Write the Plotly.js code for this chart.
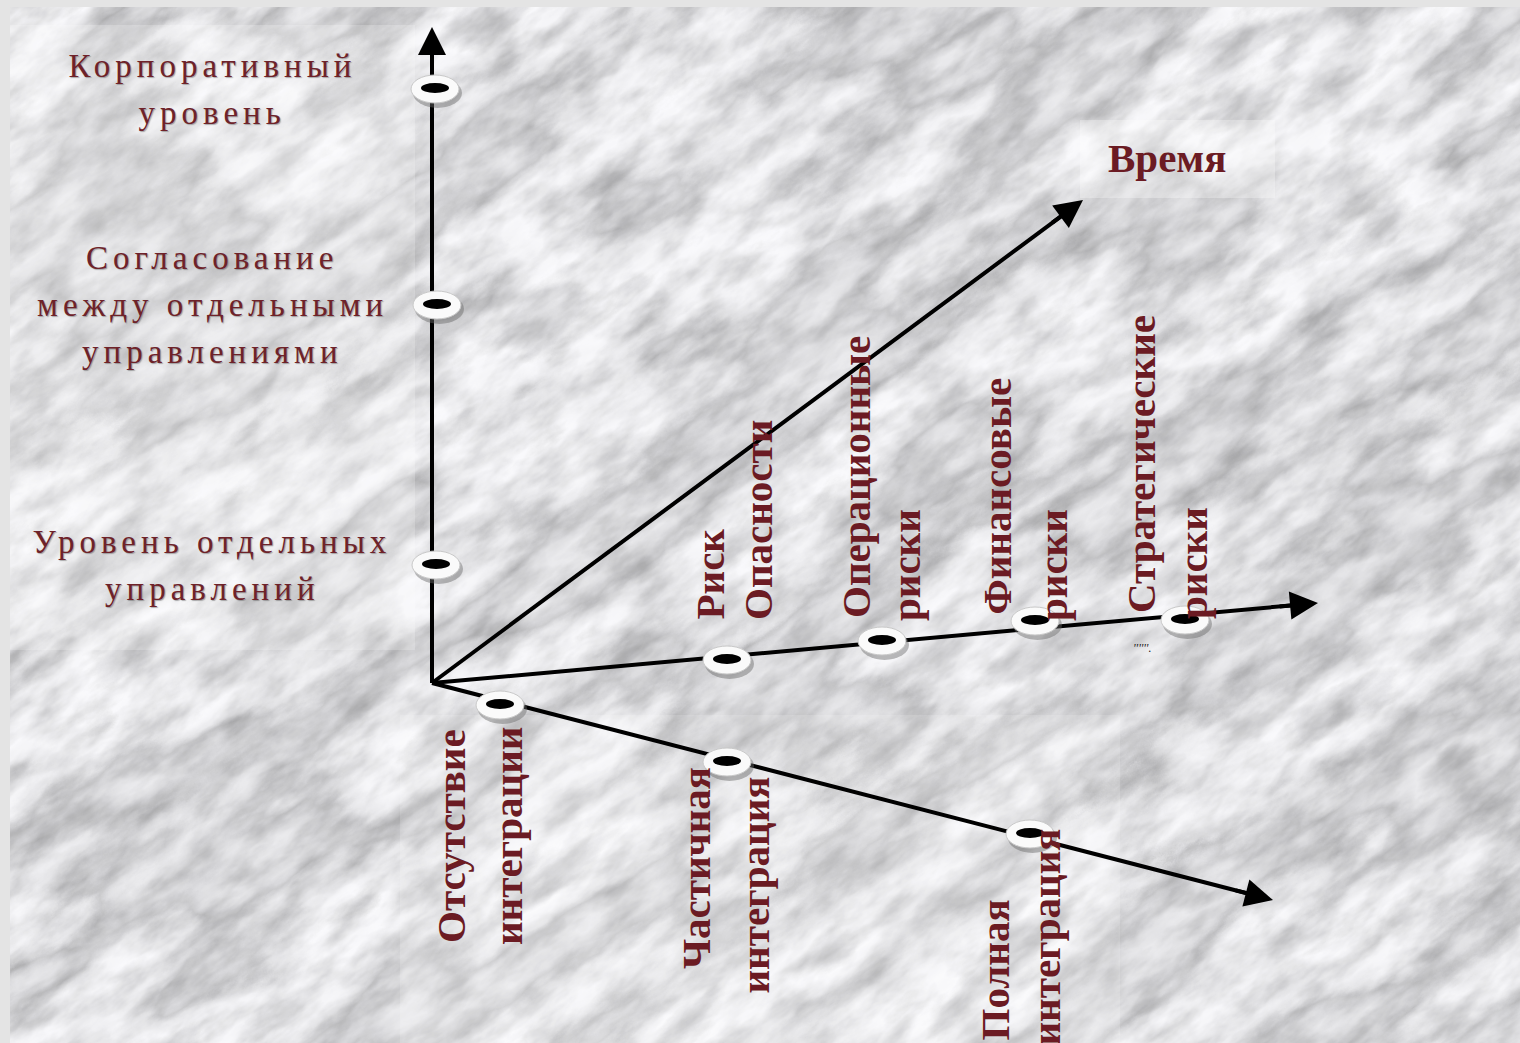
<!DOCTYPE html>
<html>
<head>
<meta charset="utf-8">
<script src="https://cdn.plot.ly/plotly-3.0.1.min.js"></script>
<style>
html,body{margin:0;padding:0;width:1520px;height:1043px;overflow:hidden;background:#e4e4e4;}
#bg{position:absolute;left:10px;top:7px;}
.panel{position:absolute;}
#chart{position:absolute;left:0;top:0;width:1520px;height:1043px;}
</style>
</head>
<body>
<svg id="bg" width="1510" height="1036">
  <defs>
    <filter id="marble" x="0" y="0" width="1" height="1" color-interpolation-filters="sRGB">
      <feTurbulence type="fractalNoise" baseFrequency="0.0038 0.0105" numOctaves="7" seed="23" result="n"/>
      <feColorMatrix in="n" type="matrix" values="1 0 0 0 0  1 0 0 0 0  1 0 0 0 0  0 0 0 0 1" result="g"/>
      <feComponentTransfer in="g" result="c">
        <feFuncR type="table" tableValues="0.74 0.80 0.86 0.92 0.88 0.80 0.91 0.96 0.98 0.90 0.84 0.93 0.97"/>
        <feFuncG type="table" tableValues="0.74 0.80 0.86 0.92 0.88 0.80 0.91 0.96 0.98 0.90 0.84 0.93 0.97"/>
        <feFuncB type="table" tableValues="0.75 0.81 0.87 0.93 0.89 0.81 0.92 0.97 0.99 0.91 0.85 0.94 0.98"/>
      </feComponentTransfer>
      <feTurbulence type="fractalNoise" baseFrequency="0.02 0.045" numOctaves="4" seed="5" result="s"/>
      <feColorMatrix in="s" type="matrix" values="1 0 0 0 0  1 0 0 0 0  1 0 0 0 0  0 0 0 0 1" result="s2"/>
      <feComponentTransfer in="s2" result="s3">
        <feFuncR type="table" tableValues="0.80 0.84 0.90 0.96 1 1 1"/>
        <feFuncG type="table" tableValues="0.80 0.84 0.90 0.96 1 1 1"/>
        <feFuncB type="table" tableValues="0.80 0.84 0.90 0.96 1 1 1"/>
      </feComponentTransfer>
      <feBlend in="c" in2="s3" mode="multiply"/>
    </filter>
  </defs>
  <rect x="-700" y="-700" width="2900" height="2500" fill="#fff" filter="url(#marble)" transform="rotate(-36 755 518)"/>
</svg>
<div class="panel" style="left:10px;top:25px;width:405px;height:625px;background:rgba(255,255,255,0.22)"></div>
<div class="panel" style="left:400px;top:715px;width:720px;height:328px;background:rgba(255,255,255,0.16)"></div>
<div class="panel" style="left:1080px;top:120px;width:195px;height:78px;background:rgba(255,255,255,0.30)"></div>
<div id="chart"></div>
<script>
// ---------------- data ----------------
const origin = [432, 683];

const levelLabels = [
  ['Корпоративный', 'уровень'],
  ['Согласование', 'между отдельными', 'управлениями'],
  ['Уровень отдельных', 'управлений']
];
const levelX = [435, 437, 436];
const levelY = [89, 305, 565];

const riskLabels = [
  ['Риск', 'Опасности'],
  ['Операционные', 'риски'],
  ['Финансовые', 'риски'],
  ['Стратегические', 'риски']
];
const riskX = [727, 882, 1035, 1185];
const riskY = [660, 641, 621, 620];

const integLabels = [
  ['Отсутствие', 'интеграции'],
  ['Частичная', 'интеграция'],
  ['Полная', 'интеграция']
];
const integX = [500, 727, 1030];
const integY = [705, 762, 834];

const timeLabel = 'Время';
// axis tips: vertical level axis, time axis, risk axis, integration axis
const axisTipX = [432, 1083, 1318, 1273];
const axisTipY = [27, 200, 603, 900];

// ---------------- layout config (label placement) ----------------
const LEFT_CX = 212, LEFT_LINE = 47;
const riskCols = [[709, 758], [856, 906], [996, 1053], [1141, 1193]];
const riskBottoms = [[622, 622], [620, 623], [617, 623], [615, 621]];
const integCols = [[451, 508], [696, 754], [994, 1045]];
const integTops = [[727, 725], [765, 775], [898, 827]];
const timePos = [1167, 158];

const RED = '#6b1b23';
const SERIF = 'Liberation Serif, Times New Roman, serif';

// ---------------- traces: axis lines ----------------
const traces = [];
const annotations = [];
const BACK = 14;
for (let i = 0; i < axisTipX.length; i++) {
  const dx = axisTipX[i] - origin[0], dy = axisTipY[i] - origin[1];
  const L = Math.hypot(dx, dy);
  const ex = axisTipX[i] - dx / L * BACK, ey = axisTipY[i] - dy / L * BACK;
  traces.push({
    type: 'scatter', mode: 'lines', x: [origin[0], ex], y: [origin[1], ey],
    line: {color: '#000', width: 4}, hoverinfo: 'skip', showlegend: false
  });
  annotations.push({
    x: axisTipX[i], y: axisTipY[i], xref: 'x', yref: 'y',
    ax: axisTipX[i] - dx / L * 40, ay: axisTipY[i] - dy / L * 40, axref: 'x', ayref: 'y',
    showarrow: true, arrowhead: 2, arrowsize: 1.4, arrowwidth: 4, arrowcolor: '#000',
    standoff: 0, text: ''
  });
}

// ---------------- rings (point markers) ----------------
const shapes = [];
function ring(cx, cy) {
  shapes.push({type: 'circle', xref: 'x', yref: 'y', x0: cx - 22, x1: cx + 27, y0: cy - 11, y1: cy + 19,
    fillcolor: 'rgba(105,105,105,0.45)', line: {width: 0}, layer: 'above'});
  shapes.push({type: 'circle', xref: 'x', yref: 'y', x0: cx - 24, x1: cx + 24, y0: cy - 14, y1: cy + 14,
    fillcolor: '#fafafa', line: {color: 'rgba(200,200,200,1)', width: 1}, layer: 'above'});
  shapes.push({type: 'circle', xref: 'x', yref: 'y', x0: cx - 14, x1: cx + 14, y0: cy - 6, y1: cy + 4,
    fillcolor: '#000', line: {width: 0}, layer: 'above'});
}
levelX.forEach((x, i) => ring(x, levelY[i]));
riskX.forEach((x, i) => ring(x, riskY[i]));
integX.forEach((x, i) => ring(x, integY[i]));

// ---------------- text ----------------
const leftIdx = [];
levelLabels.forEach((lines, i) => {
  const n = lines.length;
  lines.forEach((t, j) => {
    leftIdx.push(annotations.length);
    annotations.push({
      x: LEFT_CX, y: levelY[i] + (j - (n - 1) / 2) * LEFT_LINE, xref: 'x', yref: 'y',
      xanchor: 'center', yanchor: 'middle', showarrow: false, text: t,
      font: {family: SERIF, size: 33, color: '#6e2229', shadow: '1px 1px 1px rgba(80,80,80,0.45)'}
    });
  });
});
riskLabels.forEach((lines, i) => {
  lines.forEach((t, j) => {
    annotations.push({
      x: riskCols[i][j], y: riskBottoms[i][j], xref: 'x', yref: 'y',
      xanchor: 'center', yanchor: 'bottom', textangle: -90, showarrow: false, text: t,
      font: {family: SERIF, size: 41, color: RED, weight: 'bold'}
    });
  });
});
integLabels.forEach((lines, i) => {
  lines.forEach((t, j) => {
    annotations.push({
      x: integCols[i][j], y: integTops[i][j], xref: 'x', yref: 'y',
      xanchor: 'center', yanchor: 'top', textangle: -90, showarrow: false, text: t,
      font: {family: SERIF, size: 41, color: RED, weight: 'bold'}
    });
  });
});
annotations.push({
  x: timePos[0], y: timePos[1], xref: 'x', yref: 'y', xanchor: 'center', yanchor: 'middle',
  showarrow: false, text: timeLabel, font: {family: SERIF, size: 41, color: RED, weight: 'bold'}
});
annotations.push({
  x: 1142, y: 648, xref: 'x', yref: 'y', showarrow: false, text: "''''''.",
  font: {family: SERIF, size: 12, color: '#222', style: 'italic'}
});

const layout = {
  width: 1520, height: 1043,
  margin: {l: 0, r: 0, t: 0, b: 0},
  paper_bgcolor: 'rgba(0,0,0,0)', plot_bgcolor: 'rgba(0,0,0,0)',
  xaxis: {range: [0, 1520], visible: false, fixedrange: true},
  yaxis: {range: [1043, 0], visible: false, fixedrange: true},
  showlegend: false,
  shapes: shapes,
  annotations: annotations
};

Plotly.newPlot('chart', traces, layout, {staticPlot: true, displayModeBar: false}).then(() => {
  leftIdx.forEach(i => {
    document.querySelectorAll('#chart g.annotation[data-index="' + i + '"] text').forEach(t => {
      t.style.letterSpacing = '5px';
    });
  });
});
</script>
</body>
</html>
